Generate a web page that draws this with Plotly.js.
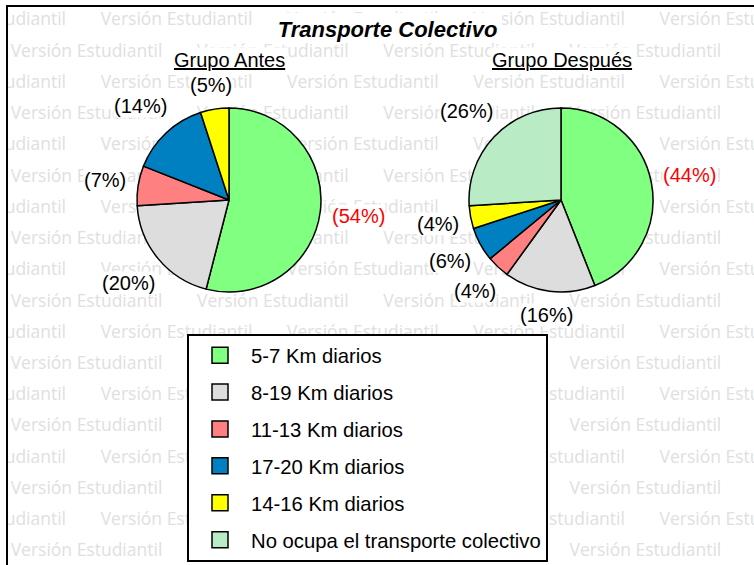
<!DOCTYPE html>
<html>
<head>
<meta charset="utf-8">
<script src="https://cdn.plot.ly/plotly-3.0.1.min.js"></script>
<style>html,body{margin:0;padding:0;background:#fff;}</style>
</head>
<body>
<div id="chart" style="width:754px;height:565px;"></div>
<script>
// ---- data ----
const categories = ['5-7 Km diarios', '8-19 Km diarios', '11-13 Km diarios', '17-20 Km diarios', '14-16 Km diarios', 'No ocupa el transporte colectivo'];
const sliceColors = ['#80FF80', '#DDDDDD', '#FF8080', '#0080C0', '#FFFF00', '#B9EBC4'];
const antesValues = [54, 20, 7, 14, 5];
const despuesValues = [44, 16, 4, 6, 4, 26];
const groupTitles = ['Grupo Antes', 'Grupo Después'];
const chartTitle = 'Transporte Colectivo';
const watermarkText = 'Versión Estudiantil';

// ---- geometry / style ----
const W = 754, H = 565;
const px = v => v / W;
const py = v => 1 - v / H;
const FONT = 'Liberation Sans, Arial, sans-serif';
const PIE_R = 92;
const pies = [
  { values: antesValues, cx: 229, cy: 200, title: groupTitles[0], titleX: 229 },
  { values: despuesValues, cx: 561, cy: 200, title: groupTitles[1], titleX: 562 }
];
const LEGEND_BOX = { x0: 187, x1: 553, y0: 334, y1: 563 };
const TITLE_BOX = { x0: 272, x1: 502, y0: 13, y1: 43 };

function pieTrace(p) {
  const n = p.values.length;
  return {
    type: 'pie',
    labels: categories.slice(0, n),
    values: p.values,
    marker: { colors: sliceColors.slice(0, n), line: { color: '#000', width: 1.5 } },
    sort: false,
    direction: 'clockwise',
    rotation: 0,
    textinfo: 'none',
    domain: { x: [px(p.cx - PIE_R), px(p.cx + PIE_R)], y: [py(p.cy + PIE_R), py(p.cy - PIE_R)] },
    showlegend: false,
    hoverinfo: 'label+percent'
  };
}

// outside percentage labels, placed along each slice's mid-angle
function pieLabels(p) {
  const total = p.values.reduce((a, b) => a + b, 0);
  let cum = 0;
  return p.values.map((v, i) => {
    const mid = (cum + v / 2) / total;
    cum += v;
    const th = 2 * Math.PI * mid;
    const dx = Math.sin(th), dy = -Math.cos(th);
    const txt = '(' + Math.round(v / total * 100) + '%)';
    const halfW = txt.length * 11 / 2, halfH = 11;
    const dist = PIE_R + 10 + Math.abs(dx) * halfW + Math.abs(dy) * halfH;
    return {
      text: txt, xref: 'paper', yref: 'paper',
      x: px(p.cx + dx * dist), y: py(p.cy + dy * dist),
      xanchor: 'center', yanchor: 'middle', showarrow: false,
      bgcolor: '#FFFFFF', borderpad: 0,
      font: { family: FONT, size: 20, color: i === 0 ? '#FF0000' : '#000000' }
    };
  });
}

// watermark (background text)
const WM_HALF_W = 76.5, WM_HALF_H = 9;
function hidden(x, y) {
  const inBox = b => x - WM_HALF_W >= b.x0 && x + WM_HALF_W <= b.x1 && y - WM_HALF_H >= b.y0 && y + WM_HALF_H <= b.y1;
  if (inBox(LEGEND_BOX) || inBox(TITLE_BOX)) return true;
  return pies.some(p => [[-1, -1], [1, -1], [-1, 1], [1, 1]].every(([sx, sy]) => {
    const ddx = x + sx * WM_HALF_W - p.cx, ddy = y + sy * WM_HALF_H - p.cy;
    return ddx * ddx + ddy * ddy <= PIE_R * PIE_R;
  }));
}
const wmX = [], wmY = [], wmT = [];
for (let row = 0; row < 18; row++) {
  const y = 21 + row * 31.24;
  const start = (row % 2 === 0) ? 100 : 10;
  for (let x = start - 186.3; x < W; x += 186.3) {
    const c = x + WM_HALF_W;
    if (hidden(c, y)) continue;
    wmX.push(c); wmY.push(y); wmT.push(watermarkText);
  }
}

const traces = [
  {
    type: 'scatter', mode: 'text', x: wmX, y: wmY, text: wmT,
    textposition: 'middle center',
    textfont: { family: 'Open Sans, Noto Sans, sans-serif', size: 17.5, color: '#E0E0E0' },
    hoverinfo: 'skip', showlegend: false, xaxis: 'x', yaxis: 'y'
  },
  pieTrace(pies[0]),
  pieTrace(pies[1])
];

// legend entries
categories.forEach((c, i) => {
  traces.push({
    type: 'scatter', mode: 'markers', x: [null], y: [null], name: c,
    legendgroup: 'g' + i,
    marker: { symbol: 'square', size: 16, color: sliceColors[i], line: { color: '#000', width: 1.5 } },
    hoverinfo: 'skip', xaxis: 'x', yaxis: 'y'
  });
});

const annotations = [];
pies.forEach(p => {
  annotations.push({
    text: '<u>' + p.title + '</u>', x: px(p.titleX), y: py(60), xref: 'paper', yref: 'paper',
    showarrow: false, xanchor: 'center', yanchor: 'middle', bgcolor: '#FFFFFF', borderpad: 1,
    font: { family: FONT, size: 20, color: '#000' }
  });
  pieLabels(p).forEach(a => annotations.push(a));
});

const layout = {
  width: W, height: H,
  margin: { l: 0, r: 0, t: 0, b: 0 },
  paper_bgcolor: '#FFFFFF',
  plot_bgcolor: 'rgba(0,0,0,0)',
  font: { family: FONT, color: '#000' },
  title: {
    text: '<b><i>' + chartTitle + '</i></b>',
    font: { family: FONT, size: 22, color: '#000' },
    x: px(387.5), xanchor: 'center',
    y: py(29), yanchor: 'middle'
  },
  xaxis: { domain: [px(7), 1], range: [7, W], visible: false, fixedrange: true },
  yaxis: { domain: [0, py(6)], range: [H, 6], visible: false, fixedrange: true },
  showlegend: true,
  legend: {
    x: px(LEGEND_BOX.x0), y: py(LEGEND_BOX.y0 - 0.5), xanchor: 'left', yanchor: 'top',
    bgcolor: '#FFFFFF', bordercolor: '#000', borderwidth: 2,
    font: { family: FONT, size: 20.3, color: '#000' },
    itemwidth: 52, traceorder: 'grouped', tracegroupgap: 7.5,
    itemsizing: 'trace', itemclick: false, itemdoubleclick: false
  },
  shapes: [
    { type: 'rect', xref: 'paper', yref: 'paper', x0: px(TITLE_BOX.x0), x1: px(TITLE_BOX.x1), y0: py(TITLE_BOX.y1), y1: py(TITLE_BOX.y0),
      fillcolor: '#FFFFFF', line: { width: 0 }, layer: 'above' },
    { type: 'rect', xref: 'paper', yref: 'paper', x0: px(7), x1: 1.2, y0: -0.2, y1: py(6),
      fillcolor: 'rgba(0,0,0,0)', line: { color: '#000', width: 2 }, layer: 'above' }
  ],
  annotations: annotations
};

Plotly.newPlot('chart', traces, layout, { displayModeBar: false, staticPlot: true });
</script>
</body>
</html>
